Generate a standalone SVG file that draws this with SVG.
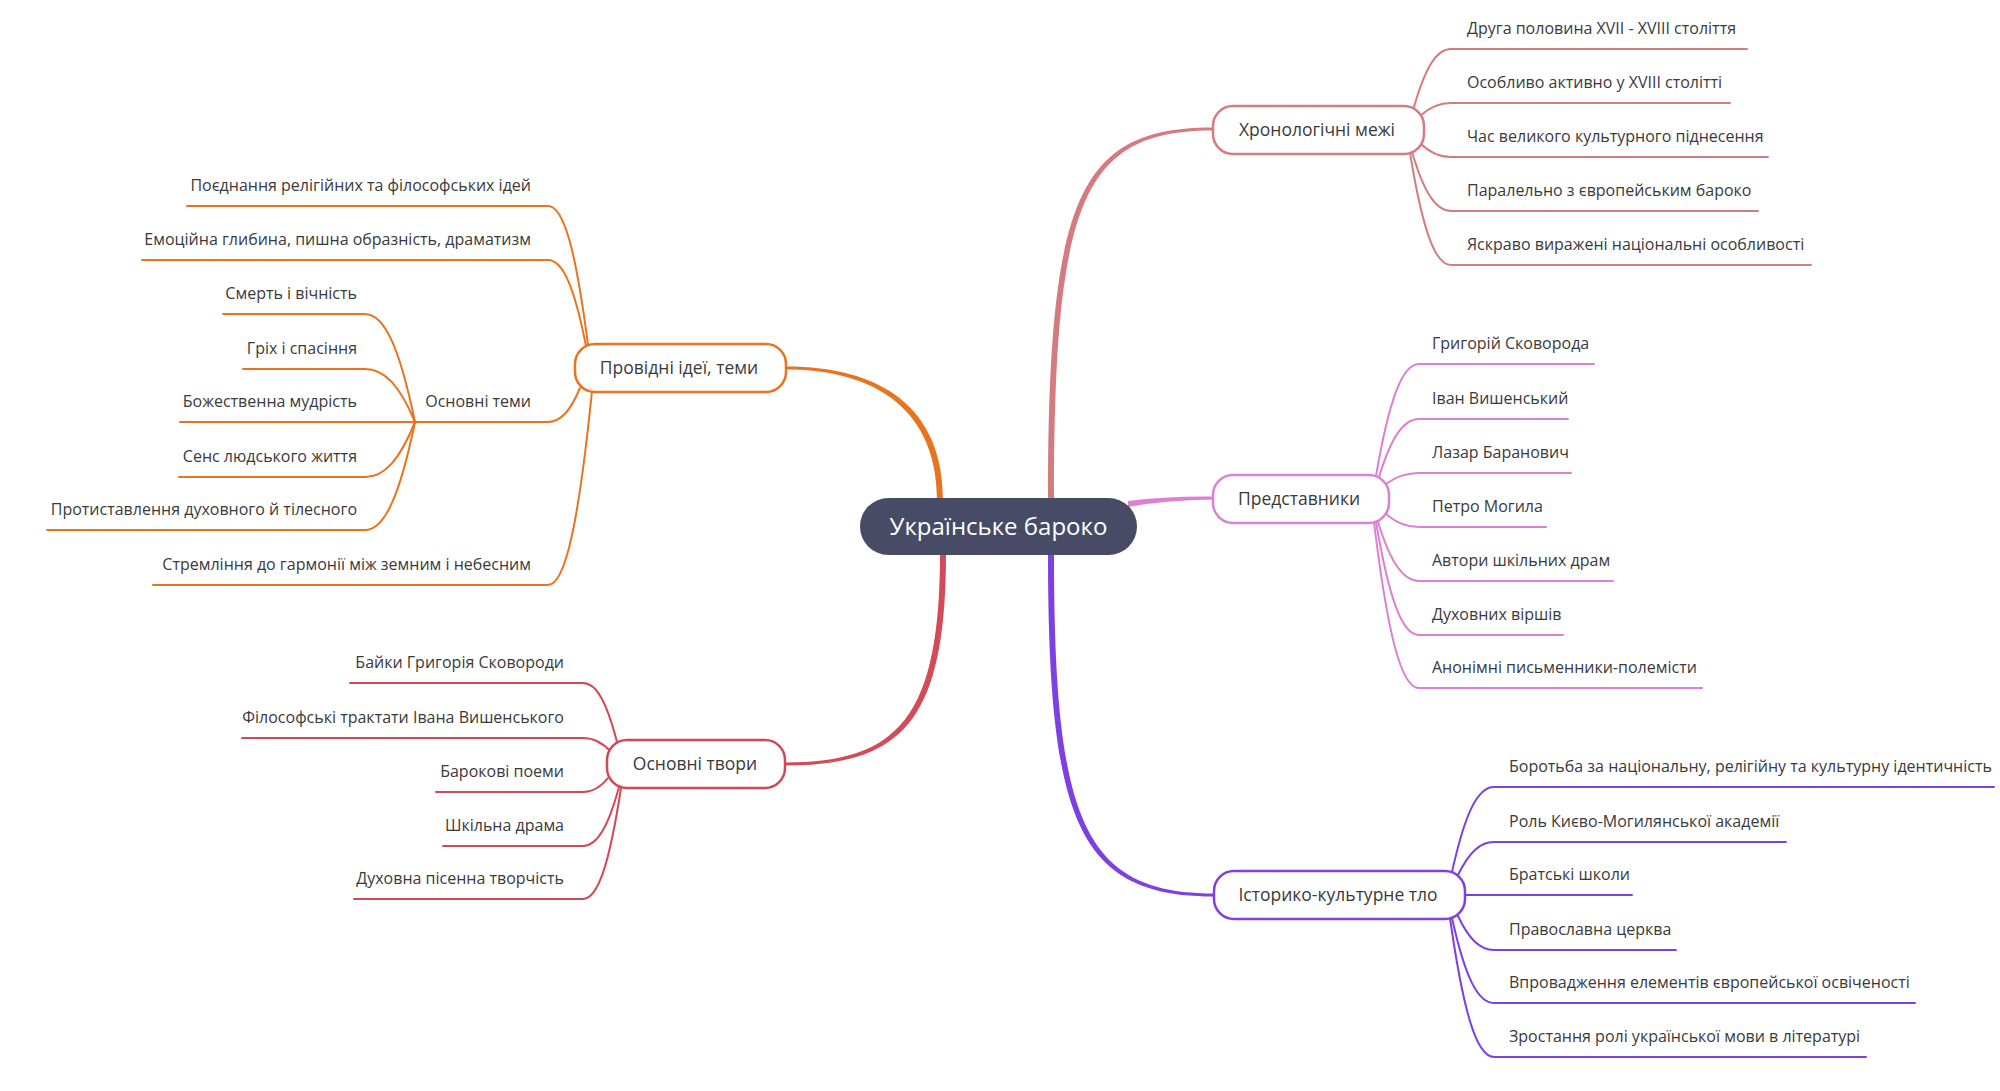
<svg xmlns="http://www.w3.org/2000/svg" width="2000" height="1091" viewBox="0 0 2000 1091">
<style>
  text { font-family: "Open Sans", "Noto Sans", "DejaVu Sans", sans-serif; fill: #3a3a3a; }
  .leaf { font-size: 16px; }
  .lv1 { font-size: 17.5px; text-anchor: middle; }
  .root { font-size: 24px; text-anchor: middle; fill: #ffffff; }
  .end { text-anchor: end; }
  .ln { fill: none; stroke-width: 2; stroke-linecap: round; }
  .box { fill: #ffffff; stroke-width: 2.5; }
  .c-or { stroke: #e8741f; }
  .c-cr { stroke: #cf4a58; }
  .c-ro { stroke: #d47b80; }
  .c-pk { stroke: #db80d2; }
  .c-pu { stroke: #7e40e0; }
</style>
<rect width="2000" height="1091" fill="#ffffff"/>

<g id="connectors">
  <!-- main branches (tapered) -->
  <path fill="#e8741f" d="M943,500 C943,408 882,366.5 786,366.5 L786,369.5 C878,369.5 937,412 937,500 Z"/>
  <path fill="#d24b57" d="M946,553 C946,722 902,765.5 785,765.5 L785,762.5 C898,762.5 940,718 940,553 Z"/>
  <path fill="#d47b80" d="M1048,500 C1048,198 1078,127.5 1213,127.5 L1213,130.5 C1082,130.5 1054,202 1054,500 Z"/>
  <path fill="#db80d2" d="M1128,501 Q1165,496 1213,496.5 L1213,499.5 Q1165,500 1128,507 Z"/>
  <path fill="#7e40e0" d="M1048,553 C1048,822 1078,896.5 1214,896.5 L1214,893.5 C1082,893.5 1054,818 1054,553 Z"/>

  <!-- Хронологічні межі -->
  <g class="ln c-ro">
    <path d="M1414,107 C1425.1,68.1 1436.2,49 1451,49 H1747"/>
    <path d="M1420,116 C1429.3,107.3 1438.6,103 1451,103 H1730"/>
    <path d="M1420,143 C1429.3,152.4 1438.6,157 1451,157 H1768"/>
    <path d="M1412,152 C1423.7,191.5 1435.4,211 1451,211 H1758"/>
    <path d="M1410,153 C1422.3,228 1434.6,265 1451,265 H1811"/>
  </g>
  <!-- Представники -->
  <g class="ln c-pk">
    <path d="M1376,476 C1388.9,401 1401.8,364 1419,364 H1594"/>
    <path d="M1379,477 C1391,438.1 1403,419 1419,419 H1568"/>
    <path d="M1386,484 C1395.9,476.6 1405.8,473 1419,473 H1571"/>
    <path d="M1386,514 C1395.9,522.7 1405.8,527 1419,527 H1546"/>
    <path d="M1378,522 C1390.3,561.5 1402.6,581 1419,581 H1613"/>
    <path d="M1376,522 C1388.9,597.7 1401.8,635 1419,635 H1563"/>
    <path d="M1374,522 C1387.5,633.2 1401,688 1419,688 H1702"/>
  </g>
  <!-- Історико-культурне тло -->
  <g class="ln c-pu">
    <path d="M1452,872 C1464.6,815 1477.2,787 1494,787 H1994"/>
    <path d="M1458,875 C1468.8,852.9 1479.6,842 1494,842 H1786"/>
    <path d="M1465,895 H1632"/>
    <path d="M1458,916 C1468.8,938.8 1479.6,950 1494,950 H1676"/>
    <path d="M1452,918 C1464.6,975 1477.2,1003 1494,1003 H1915"/>
    <path d="M1450,918 C1463.2,1011.1 1476.4,1057 1494,1057 H1866"/>
  </g>
  <!-- Провідні ідеї, теми -->
  <g class="ln c-or">
    <path d="M588,345 C576,251.9 564,206 548,206 H187"/>
    <path d="M586,346 C574.6,288.4 563.2,260 548,260 H142"/>
    <path d="M580,388 C570.4,410.8 560.8,422 548,422 H415"/>
    <path d="M592,391 C578.8,521 565.6,585 548,585 H153"/>
    <!-- Основні теми -->
    <path d="M415,422 C400,349.6 385,314 365,314 H223"/>
    <path d="M415,422 C400,386.5 385,369 365,369 H243"/>
    <path d="M415,422 H180"/>
    <path d="M415,422 C400,458.9 385,477 365,477 H179"/>
    <path d="M415,422 C400,494.4 385,530 365,530 H47"/>
  </g>
  <!-- Основні твори -->
  <g class="ln c-cr">
    <path d="M617,742 C606.8,702.5 596.6,683 583,683 H350"/>
    <path d="M611,752 C602.6,742.6 594.2,738 583,738 H242"/>
    <path d="M608,778 C600.5,787.4 593,792 583,792 H436"/>
    <path d="M619,787 C608.2,826.5 597.4,846 583,846 H443"/>
    <path d="M621,788 C609.6,862.4 598.2,899 583,899 H354"/>
  </g>
</g>

<g id="root">
  <rect x="860" y="498" width="277" height="57" rx="28.5" fill="#474b66"/>
  <text class="root" x="998.5" y="535">Українське бароко</text>
</g>

<g id="node-providni">
  <rect class="box c-or" x="575" y="344" width="211" height="48" rx="20"/>
  <text class="lv1" x="679" y="374">Провідні ідеї, теми</text>
</g>
<g id="node-tvory">
  <rect class="box c-cr" x="607" y="740" width="178" height="48" rx="20"/>
  <text class="lv1" x="695" y="770">Основні твори</text>
</g>
<g id="node-khron">
  <rect class="box c-ro" x="1213" y="106" width="211" height="48" rx="20"/>
  <text class="lv1" x="1317" y="136">Хронологічні межі</text>
</g>
<g id="node-predst">
  <rect class="box c-pk" x="1213" y="475" width="176" height="48" rx="20"/>
  <text class="lv1" x="1299" y="505">Представники</text>
</g>
<g id="node-istor">
  <rect class="box c-pu" x="1214" y="871" width="251" height="48" rx="20"/>
  <text class="lv1" x="1338" y="901">Історико-культурне тло</text>
</g>

<g id="leaves-khron" class="leaf">
  <text x="1467" y="34">Друга половина XVII - XVIII століття</text>
  <text x="1467" y="88">Особливо активно у XVIII столітті</text>
  <text x="1467" y="142">Час великого культурного піднесення</text>
  <text x="1467" y="196">Паралельно з європейським бароко</text>
  <text x="1467" y="250">Яскраво виражені національні особливості</text>
</g>
<g id="leaves-predst" class="leaf">
  <text x="1432" y="349">Григорій Сковорода</text>
  <text x="1432" y="404">Іван Вишенський</text>
  <text x="1432" y="458">Лазар Баранович</text>
  <text x="1432" y="512">Петро Могила</text>
  <text x="1432" y="566">Автори шкільних драм</text>
  <text x="1432" y="620">Духовних віршів</text>
  <text x="1432" y="673">Анонімні письменники-полемісти</text>
</g>
<g id="leaves-istor" class="leaf">
  <text x="1509" y="772">Боротьба за національну, релігійну та культурну ідентичність</text>
  <text x="1509" y="827">Роль Києво-Могилянської академії</text>
  <text x="1509" y="880">Братські школи</text>
  <text x="1509" y="935">Православна церква</text>
  <text x="1509" y="988">Впровадження елементів європейської освіченості</text>
  <text x="1509" y="1042">Зростання ролі української мови в літературі</text>
</g>
<g id="leaves-providni" class="leaf end">
  <text class="end" x="531" y="191">Поєднання релігійних та філософських ідей</text>
  <text class="end" x="531" y="245">Емоційна глибина, пишна образність, драматизм</text>
  <text class="end" x="531" y="407">Основні теми</text>
  <text class="end" x="531" y="570">Стремління до гармонії між земним і небесним</text>
</g>
<g id="leaves-temy" class="leaf">
  <text class="end" x="357" y="299">Смерть і вічність</text>
  <text class="end" x="357" y="354">Гріх і спасіння</text>
  <text class="end" x="357" y="407">Божественна мудрість</text>
  <text class="end" x="357" y="462">Сенс людського життя</text>
  <text class="end" x="357" y="515">Протиставлення духовного й тілесного</text>
</g>
<g id="leaves-tvory" class="leaf">
  <text class="end" x="564" y="668">Байки Григорія Сковороди</text>
  <text class="end" x="564" y="723">Філософські трактати Івана Вишенського</text>
  <text class="end" x="564" y="777">Барокові поеми</text>
  <text class="end" x="564" y="831">Шкільна драма</text>
  <text class="end" x="564" y="884">Духовна пісенна творчість</text>
</g>
</svg>
